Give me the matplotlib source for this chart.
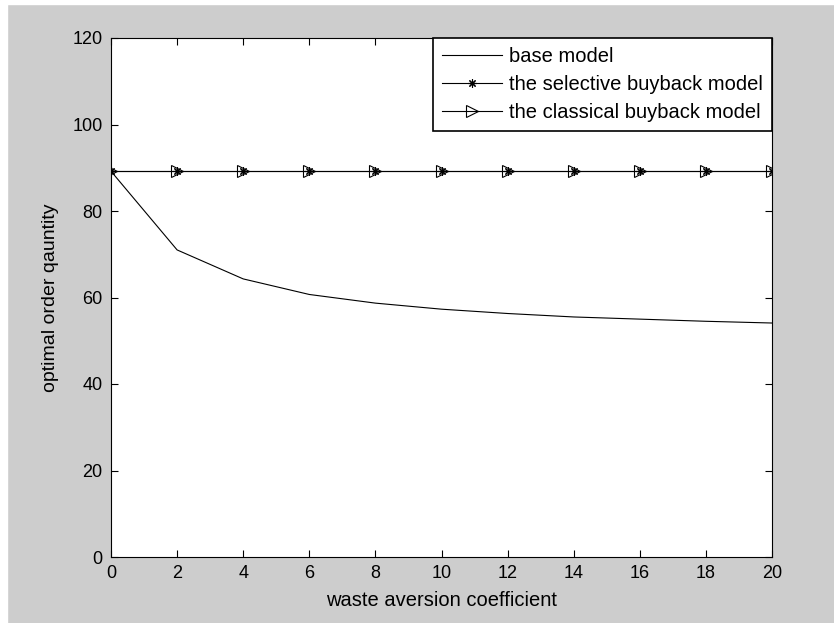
import matplotlib
matplotlib.use("Agg")
import matplotlib.pyplot as plt
from matplotlib.patches import Rectangle

plt.rcParams['font.family'] = ['Liberation Sans', 'DejaVu Sans']

x = [0, 2, 4, 6, 8, 10, 12, 14, 16, 18, 20]
base_model = [89.2, 71.0, 64.3, 60.7, 58.7, 57.3, 56.3, 55.5, 55.0, 54.5, 54.1]
selective = [89.2] * 11
classical = [89.2] * 11
labels = ["base model", "the selective buyback model", "the classical buyback model"]

fig = plt.figure(figsize=(8.34, 6.23), dpi=100, facecolor='#cdcdcd')
fig.patches.append(Rectangle((0, 0), 7/834, 1, transform=fig.transFigure, color='white', zorder=-1))
fig.patches.append(Rectangle((0, 1-4/623), 1, 4/623, transform=fig.transFigure, color='white', zorder=-1))
ax = fig.add_axes([111/834, 1-557/623, (772-111)/834, (557-38)/623])
ax.set_facecolor('white')

ax.plot(x, base_model, color='black', lw=0.8, label=labels[0])
ax.plot(x, selective, color='black', lw=0.8, marker=(8, 2, 0), ms=6, mfc='black', mec='black', mew=0.8, label=labels[1])
ax.plot(x, classical, color='black', lw=0.8, marker='>', ms=9, mfc='none', mec='black', mew=0.8, label=labels[2])

ax.set_xlim(0, 20)
ax.set_ylim(0, 120)
ax.set_xticks(range(0, 21, 2))
ax.set_yticks(range(0, 121, 20))
ax.tick_params(direction='in', length=5, width=0.8, top=True, right=True, labelsize=13, colors='black', pad=6)
for s in ax.spines.values():
    s.set_linewidth(0.8)
ax.set_xlabel('waste aversion coefficient', fontsize=14.5, labelpad=6)
ax.set_ylabel('optimal order qauntity', fontsize=14, labelpad=10)

leg = ax.legend(loc='upper right', fontsize=14.5, frameon=True, fancybox=False, edgecolor='black',
                borderaxespad=0, handlelength=3.0, labelspacing=0.45, borderpad=0.45, handletextpad=0.35)
leg.get_frame().set_linewidth(1.2)
leg.get_frame().set_alpha(1)

fig.savefig('out.png', dpi=100, facecolor=fig.get_facecolor())
